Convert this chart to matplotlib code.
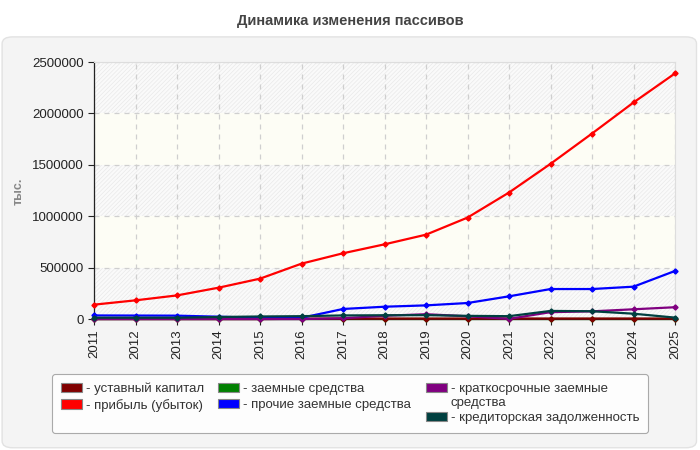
import matplotlib
matplotlib.use('Agg')
import matplotlib.pyplot as plt
from matplotlib.patches import FancyBboxPatch, Patch

plt.rcParams['font.family'] = ['Liberation Sans', 'DejaVu Sans']
plt.rcParams['hatch.linewidth'] = 0.5

years = list(range(2011, 2026))

# тыс. руб.
ustavnyi = [0, 0, 0, 0, 0, 3000, 5000, 5000, 5000, 5000, 5000, 5000, 5000, 5000, 5000]
pribyl = [140000, 182000, 230000, 305000, 393000, 539000, 640000, 727000, 821000,
          987000, 1231000, 1510000, 1805000, 2107000, 2390000]
zaemnye = [0] * 15
prochie = [35000, 34000, 33000, 23000, 12000, 12000, 98000, 120000, 133000,
           156000, 221000, 292000, 292000, 315000, 468000]
kratkosr = [0, 0, 0, 0, 0, 0, 8000, 32000, 47000, 27000, 2000, 67000, 75000, 95000, 115000]
kreditor = [13000, 13000, 13000, 20000, 25000, 28000, 35000, 37000, 38000,
            31000, 28000, 79000, 76000, 52000, 14000]

series = [
    ('- уставный капитал', ustavnyi, '#800000'),
    ('- прибыль (убыток)', pribyl, '#ff0000'),
    ('- заемные средства', zaemnye, '#008000'),
    ('- прочие заемные средства', prochie, '#0000ff'),
    ('- краткосрочные заемные\nсредства', kratkosr, '#800080'),
    ('- кредиторская задолженность', kreditor, '#004040'),
]

fig = plt.figure(figsize=(7, 4.5), dpi=100)
fig.patch.set_facecolor('white')

# grey panel behind the chart
panel = FancyBboxPatch((0.003, 0.005), 0.992, 0.913, boxstyle='round,pad=0,rounding_size=0.015',
                       transform=fig.transFigure, facecolor='#f4f4f4', edgecolor='#e2e2e2',
                       linewidth=1, zorder=-5)
fig.patches.append(panel)

fig.text(0.5, 0.953, 'Динамика изменения пассивов', ha='center', va='center',
         fontsize=10.5, fontweight='bold', color='#444444')

ax = fig.add_axes([0.1343, 0.291, 0.83, 0.571])
ax.set_facecolor('#fdfdf8')

# alternating bands: hatched / light yellow
for k in range(5):
    lo, hi = k * 500000, (k + 1) * 500000
    if k % 2 == 0:
        ax.axhspan(lo, hi, facecolor='#fafafa', edgecolor='#e9e9e9', hatch='/' * 8,
                   linewidth=0, zorder=-2)
    else:
        ax.axhspan(lo, hi, facecolor='#fdfdf5', linewidth=0, zorder=-2)

ax.grid(True, color='#cfcfcf', linestyle=(0, (4, 4)), linewidth=0.9)
ax.set_axisbelow(True)

for i, (label, vals, col) in enumerate(series):
    # the all-zero borrowed funds line sits underneath the others
    z = 2 if vals is zaemnye else 3
    ax.plot(years, vals, color=col, linewidth=1.6, marker='D', markersize=2.6,
            label=label, zorder=z, clip_on=False)

ax.set_xlim(2011, 2025)
ax.set_ylim(0, 2500000)
ax.set_xticks(years)
ax.set_xticklabels([str(y) for y in years], rotation=90)
ax.set_yticks(range(0, 2500001, 500000))
ax.set_yticklabels([str(v) for v in range(0, 2500001, 500000)])
ax.tick_params(labelsize=9.5, colors='#222222', length=4, width=0.8)

for s in ['top', 'right']:
    ax.spines[s].set_color('#dddddd')
for s in ['left', 'bottom']:
    ax.spines[s].set_color('#222222')
    ax.spines[s].set_linewidth(0.9)

fig.text(0.026, 0.575, 'тыс.', rotation=90, ha='center', va='center',
         fontsize=9, fontweight='bold', color='#888888')

handles = [Patch(facecolor=c, edgecolor='#888888', linewidth=0.8) for _, _, c in series]
labels = [l for l, _, _ in series]
leg = fig.legend(handles, labels, ncol=3, loc='upper left',
                 bbox_to_anchor=(0.0743, 0.168), bbox_transform=fig.transFigure,
                 borderaxespad=0,
                 fontsize=9.5, frameon=True, fancybox=True, edgecolor='#aaaaaa',
                 facecolor='#fdfdfd', handlelength=1.6, handleheight=0.7,
                 handletextpad=0.3, columnspacing=1.1, labelspacing=0.25,
                 borderpad=0.65, framealpha=1)
leg._legend_handle_box.align = 'top'
# keep the handle of the two-line label next to its first line
for col in leg._legend_handle_box.get_children():
    for item in col.get_children():
        txt = item.get_children()[-1].get_children()[0]
        if '\n' in txt.get_text():
            item.align = 'top'
leg.get_frame().set_linewidth(0.8)
for t in leg.get_texts():
    t.set_color('#333333')

fig.savefig('out.png', dpi=100)
